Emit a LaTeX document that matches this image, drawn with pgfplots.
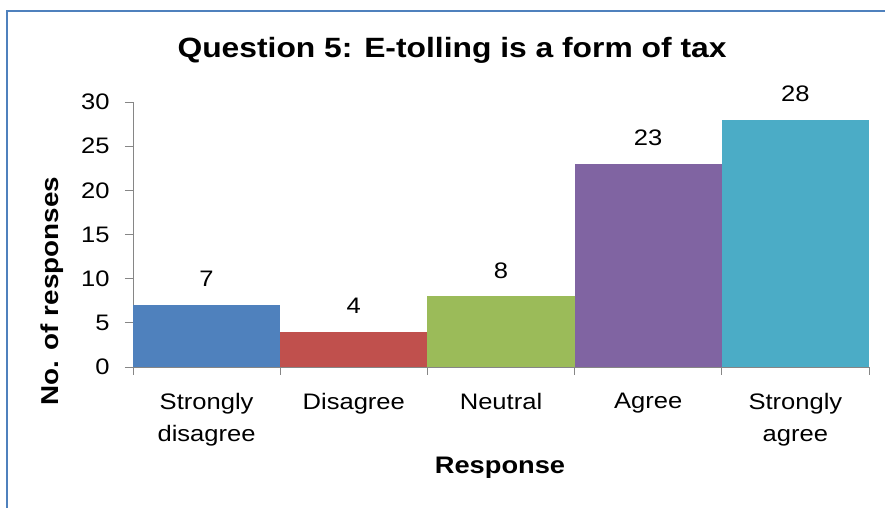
\documentclass[border=0pt]{standalone}
\usepackage{fontspec}
\setmainfont{Liberation Sans}[FakeStretch=1.14]
\usepackage{pgfplots}
\pgfplotsset{compat=1.18}
\definecolor{cA}{HTML}{4F81BD}
\definecolor{cB}{HTML}{C0504D}
\definecolor{cC}{HTML}{9BBB59}
\definecolor{cD}{HTML}{8064A2}
\definecolor{cE}{HTML}{4BACC6}
\definecolor{frameblue}{HTML}{4F81BD}
\definecolor{axgray}{HTML}{868686}
\begin{document}
\begin{tikzpicture}
\useasboundingbox (0,0) rectangle (885bp,508bp);
\draw[frameblue, line width=2bp] (7bp,0) -- (7bp,497bp) -- (886bp,497bp);
\node[font=\bfseries\fontsize{28}{32}\selectfont] at (452bp,458bp) {Question 5: E-tolling is a form of tax};
\node[font=\bfseries\fontsize{24.5}{28}\selectfont, rotate=90] at (52bp,217bp) {No. of responses};
\node[font=\bfseries\fontsize{24}{28}\selectfont] at (500bp,40bp) {Response};
\begin{axis}[
  at={(133bp,141bp)}, anchor=south west,
  width=736bp, height=265bp, scale only axis,
  xmin=-0.5, xmax=4.5, ymin=0, ymax=30,
  axis x line*=bottom, axis y line*=left,
  axis line style={axgray, line width=0.8bp},
  ytick={0,5,...,30},
  tick align=outside,
  tick style={axgray, line width=0.8bp},
  major tick length=8bp,
  xtick={-0.5,0.5,1.5,2.5,3.5,4.5},
  xticklabels={},
  extra x ticks={0,1,2,3,4},
  extra x tick labels={{Strongly\\disagree},{Disagree},{Neutral},{Agree},{Strongly\\agree}},
  extra x tick style={major tick length=0pt},
  /pgf/number format/assume math mode=true,
  ticklabel style={font=\fontsize{22.5}{32}\selectfont},
  xticklabel style={align=center, anchor=north, yshift=-23bp},
  yticklabel style={anchor=east, xshift=-12bp},
  ybar, bar width=1, bar shift=0pt,
  nodes near coords,
  every node near coord/.append style={font=\fontsize{22.5}{26}\selectfont, anchor=center, yshift=26bp, black},
  clip=false,
]
\addplot[fill=cA, draw=none] coordinates {(0,7)};
\addplot[fill=cB, draw=none] coordinates {(1,4)};
\addplot[fill=cC, draw=none] coordinates {(2,8)};
\addplot[fill=cD, draw=none] coordinates {(3,23)};
\addplot[fill=cE, draw=none] coordinates {(4,28)};
\end{axis}
\end{tikzpicture}
\end{document}
